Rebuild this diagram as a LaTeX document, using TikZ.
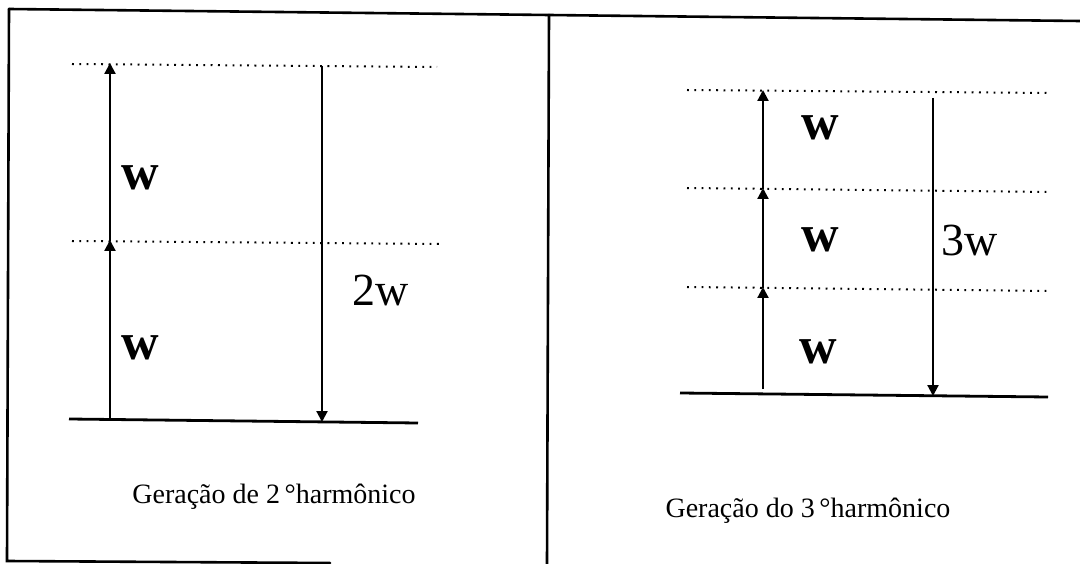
\documentclass[tikz,border=0pt]{standalone}
\usepackage{fontspec}
\setmainfont{Liberation Serif}
\usetikzlibrary{arrows.meta}
\begin{document}
\begin{tikzpicture}[x=1pt,y=-1pt,
  frame/.style={line width=2.6pt, line cap=round},
  level/.style={line width=2pt, dash pattern=on 1.8pt off 5.5pt},
  ground/.style={line width=2.8pt},
  trans/.style={line width=2.2pt, -{Triangle[length=11pt,width=11pt]}, shorten >=-1pt},
  wlab/.style={font=\fontsize{52}{52}\selectfont\bfseries, inner sep=0pt},
  sumlab/.style={font=\fontsize{46}{46}\selectfont, inner sep=0pt},
  captext/.style={font=\fontsize{28}{28}\selectfont, inner sep=0pt}]
\useasboundingbox (0,0) rectangle (1080,564);
% frame
\coordinate (fa) at (9,9);
\coordinate (fb) at (549,15);
\coordinate (fc) at (1080,21);
\coordinate (fd) at (7,561);
\coordinate (fe) at (330,563);
\coordinate (ff) at (547,564);
\draw[frame] (fa) -- (fb) -- (fc);
\draw[frame] (fa) -- (fd) -- (fe);
\draw[frame] (fb) -- (ff);
% left panel levels
\coordinate (l2a) at (72,64);  \coordinate (l2b) at (437,67);
\coordinate (l1a) at (72,241); \coordinate (l1b) at (440,244);
\coordinate (l0a) at (69,419); \coordinate (l0b) at (418,423);
\draw[level] (l2a) -- (l2b);
\draw[level] (l1a) -- (l1b);
\draw[ground] (l0a) -- (l0b);
\coordinate (u0) at (110,419);
\coordinate (u1) at (110,241);
\coordinate (u2) at (110,64);
\draw[trans] (u0) -- (u1);
\draw[trans] (u1) -- (u2);
\coordinate (d0) at (322,66);
\coordinate (d1) at (322,421);
\draw[trans] (d0) -- (d1);
\node[wlab] (lw2) at (140,178) {w};
\node[wlab] (lw1) at (140,348) {w};
\node[sumlab] (l2w) at (381,290) {2w};
\node[captext] (lcap) at (274,497) {Geração de 2\,°harmônico};
% right panel levels
\coordinate (r3a) at (687,90);  \coordinate (r3b) at (1050,93);
\coordinate (r2a) at (687,188); \coordinate (r2b) at (1050,192);
\coordinate (r1a) at (687,287); \coordinate (r1b) at (1050,291);
\coordinate (r0a) at (680,393); \coordinate (r0b) at (1048,397);
\draw[level] (r3a) -- (r3b);
\draw[level] (r2a) -- (r2b);
\draw[level] (r1a) -- (r1b);
\draw[ground] (r0a) -- (r0b);
\coordinate (v0) at (763,389);
\coordinate (v1) at (763,288);
\coordinate (v2) at (763,189);
\coordinate (v3) at (763,91);
\draw[trans] (v0) -- (v1);
\draw[trans] (v1) -- (v2);
\draw[trans] (v2) -- (v3);
\coordinate (e0) at (933,98);
\coordinate (e1) at (933,395);
\draw[trans] (e0) -- (e1);
\node[wlab] (rw3) at (820,128) {w};
\node[wlab] (rw2) at (820,240) {w};
\node[wlab] (rw1) at (818,352) {w};
\node[sumlab] (r3w) at (970,240) {3w};
\node[captext] (rcap) at (808,511) {Geração do 3\,°harmônico};
\end{tikzpicture}
\end{document}
